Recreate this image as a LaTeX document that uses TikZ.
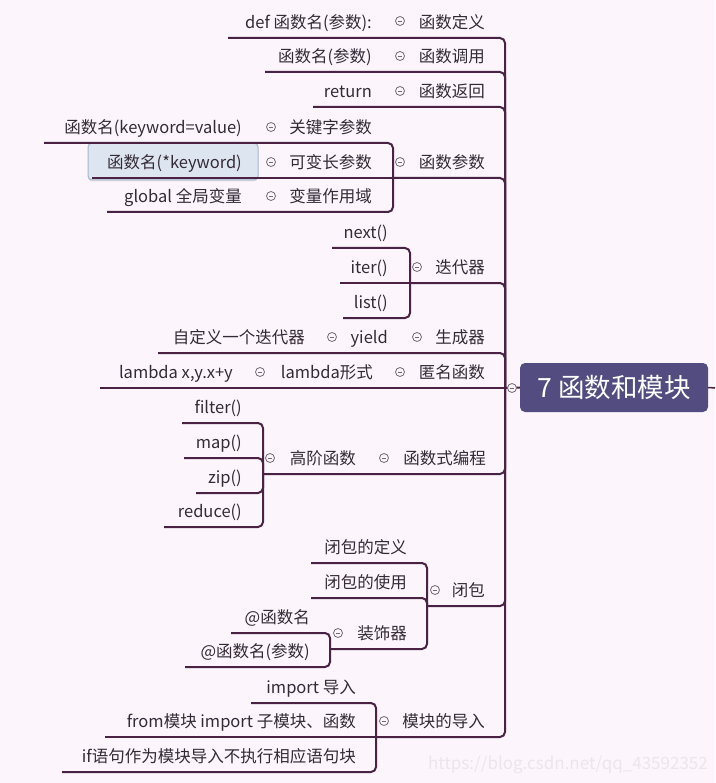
\documentclass[tikz,border=0pt]{standalone}
\usepackage{fontspec}
\setmainfont{Noto Sans CJK SC}
\usetikzlibrary{shadows}
\definecolor{bg}{RGB}{252,246,252}
\definecolor{ln}{RGB}{74,34,68}
\definecolor{tx}{RGB}{52,42,54}
\definecolor{rootc}{RGB}{82,76,128}
\definecolor{colc}{RGB}{115,105,115}
\definecolor{hlfill}{RGB}{221,230,240}
\definecolor{hldraw}{RGB}{165,182,204}
\definecolor{wmc}{RGB}{236,230,236}
\tikzset{
  lbl/.style={anchor=base east, inner sep=0pt, yshift=-1.5pt, text=tx, font=\fontsize{16.5}{20}\selectfont},
  conn/.style={draw=ln, line width=2pt, rounded corners=5pt},
  colbtn/.style={circle, draw=colc, fill=bg, line width=0.8pt, minimum size=9pt, inner sep=0pt,
    path picture={\draw[colc, line width=0.8pt] ([xshift=-2.3pt]path picture bounding box.center) -- ([xshift=2.3pt]path picture bounding box.center);}},
  rootbox/.style={fill=rootc, rounded corners=5pt, text=white, minimum width=188pt, minimum height=49pt, inner sep=0pt, font=\fontsize{26.5}{30}\selectfont},
  hlbox/.style={fill=hlfill, draw=hldraw, line width=1pt, rounded corners=4pt, minimum width=170pt, minimum height=37pt, inner sep=0pt,
    drop shadow={shadow xshift=0pt, shadow yshift=-1.5pt, opacity=0.2}},
  wmark/.style={anchor=base east, inner sep=0pt, text=wmc, font=\fontsize{17}{20}\selectfont}
}
\begin{document}
\begin{tikzpicture}[x=1pt, y=-1pt]
\fill[bg] (0,0) rectangle (715,783);
\useasboundingbox (0,0) rectangle (715,783);

% highlight box behind text
\node[hlbox] (hl) at (173,161.5) {};

% junction coordinates
\coordinate (J) at (505,388);
\coordinate (P4) at (393,178);
\coordinate (P5) at (410,283);
\coordinate (P8) at (263,474);
\coordinate (P9) at (427,606);
\coordinate (P9b) at (330,649);
\coordinate (P10) at (376,737);
\coordinate (E) at (715,388);

% underline ends
\coordinate (u1) at (228,38);
\coordinate (u2) at (265,72);
\coordinate (u3) at (313,107);
\coordinate (u4a) at (44,143);
\coordinate (u4b) at (92,178);
\coordinate (u4c) at (107,212);
\coordinate (u5a) at (332,248);
\coordinate (u5b) at (340,283);
\coordinate (u5c) at (343,318);
\coordinate (u6) at (158,353);
\coordinate (u7) at (100,388);
\coordinate (u8a) at (182,423);
\coordinate (u8b) at (184,458);
\coordinate (u8c) at (196,493);
\coordinate (u8d) at (164,527);
\coordinate (u9a) at (311,563);
\coordinate (u9b) at (311,598);
\coordinate (u9c) at (231,633);
\coordinate (u9d) at (185,667);
\coordinate (u10a) at (251,703);
\coordinate (u10b) at (105,737);
\coordinate (u10c) at (62,772);

% root
\node[rootbox] (root) at (614,387.5) {7 函数和模块};

% connectors
\draw[conn] (J) |- (u1);
\draw[conn] (J) |- (u2);
\draw[conn] (J) |- (u3);
\draw[conn] (J) |- (P4);
\draw[conn] (P4) |- (u4a);
\draw[conn] (P4) -- (u4b);
\draw[conn] (P4) |- (u4c);
\draw[conn] (J) |- (P5);
\draw[conn] (P5) |- (u5a);
\draw[conn] (P5) -- (u5b);
\draw[conn] (P5) |- (u5c);
\draw[conn] (J) |- (u6);
\draw[conn] (J) -- (u7);
\draw[conn] (J) |- (P8);
\draw[conn] (P8) |- (u8a);
\draw[conn] (P8) |- (u8b);
\draw[conn] (P8) |- (u8c);
\draw[conn] (P8) |- (u8d);
\draw[conn] (J) |- (P9);
\draw[conn] (P9) |- (u9a);
\draw[conn] (P9) |- (u9b);
\draw[conn] (P9) |- (P9b);
\draw[conn] (P9b) |- (u9c);
\draw[conn] (P9b) |- (u9d);
\draw[conn] (J) |- (P10);
\draw[conn] (P10) |- (u10a);
\draw[conn] (P10) -- (u10b);
\draw[conn] (P10) |- (u10c);
\draw[conn] (J) -- (root.west);
\draw[draw=ln, line width=1.5pt] (root.east) -- (E);

% level 1 topics
\node[lbl] (a1) at (485,27) {函数定义};
\node[lbl] (a2) at (485,61) {函数调用};
\node[lbl] (a3) at (485,96) {函数返回};
\node[lbl] (a4) at (485,167) {函数参数};
\node[lbl] (a5) at (485,272) {迭代器};
\node[lbl] (a6) at (485,342) {生成器};
\node[lbl] (a7) at (485,377) {匿名函数};
\node[lbl] (a8) at (486,463) {函数式编程};
\node[lbl] (a9) at (485,595) {闭包};
\node[lbl] (a10) at (485,726) {模块的导入};

% children
\node[lbl] (b1) at (372,27) {def 函数名(参数):};
\node[lbl] (b2) at (372,61) {函数名(参数)};
\node[lbl] (b3) at (372,96) {return};

\node[lbl] (c1) at (372,132) {关键字参数};
\node[lbl] (c2) at (372,167) {可变长参数};
\node[lbl] (c3) at (372,201) {变量作用域};
\node[lbl] (d1) at (242,132) {函数名(keyword=value)};
\node[lbl] (d2) at (242,167) {函数名(*keyword)};
\node[lbl] (d3) at (242,201) {global 全局变量};

\node[lbl] (e1) at (388,237) {next()};
\node[lbl] (e2) at (388,272) {iter()};
\node[lbl] (e3) at (388,307) {list()};

\node[lbl] (f1) at (388,342) {yield};
\node[lbl] (f2) at (305,342) {自定义一个迭代器};

\node[lbl] (g1) at (373,377) {lambda形式};
\node[lbl] (g2) at (233,377) {lambda x,y.x+y};

\node[lbl] (h1) at (356,463) {高阶函数};
\node[lbl] (h2) at (242,412) {filter()};
\node[lbl] (h3) at (242,447) {map()};
\node[lbl] (h4) at (242,482) {zip()};
\node[lbl] (h5) at (242,516) {reduce()};

\node[lbl] (i1) at (407,552) {闭包的定义};
\node[lbl] (i2) at (407,587) {闭包的使用};
\node[lbl] (i3) at (407,638) {装饰器};
\node[lbl] (i4) at (310,622) {@函数名};
\node[lbl] (i5) at (310,656) {@函数名(参数)};

\node[lbl] (j1) at (356,692) {import 导入};
\node[lbl] (j2) at (356,726) {from模块 import 子模块、函数};
\node[lbl] (j3) at (356,761) {if语句作为模块导入不执行相应语句块};

% collapse buttons
\node[colbtn] (k1) at (400,21) {};
\node[colbtn] (k2) at (400,56) {};
\node[colbtn] (k3) at (400,91) {};
\node[colbtn] (k4) at (400,162) {};
\node[colbtn] (k4a) at (271,127) {};
\node[colbtn] (k4b) at (271,162) {};
\node[colbtn] (k4c) at (271,196) {};
\node[colbtn] (k5) at (417,267) {};
\node[colbtn] (k6) at (417,337) {};
\node[colbtn] (k6a) at (332,337) {};
\node[colbtn] (k7) at (400,372) {};
\node[colbtn] (k7a) at (260,372) {};
\node[colbtn] (k8) at (384,458) {};
\node[colbtn] (k8a) at (270,458) {};
\node[colbtn] (k9) at (435,590) {};
\node[colbtn] (k9a) at (338,633) {};
\node[colbtn] (k10) at (384,721) {};
\node[colbtn] (kr) at (512,388) {};

% watermark
\node[wmark] (wm) at (708,769) {https://blog.csdn.net/qq\_43592352};
\end{tikzpicture}
\end{document}
